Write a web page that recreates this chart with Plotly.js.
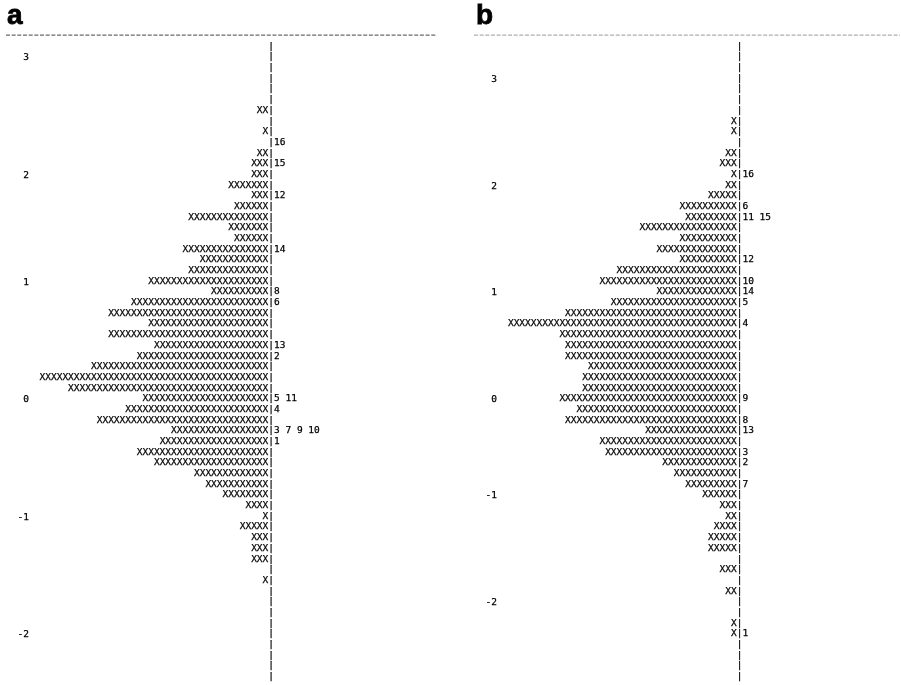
<!DOCTYPE html>
<html>
<head>
<meta charset="utf-8">
<script src="https://cdn.plot.ly/plotly-3.0.1.min.js"></script>
<style>
  html, body { margin: 0; padding: 0; background: #fff; }
  #chart { width: 901px; height: 685px; }
  #chart svg { will-change: transform; }
  #chart svg text { opacity: 0.999; }
  #chart .textpoint text, #chart .ytick text, #chart .y2tick text { stroke: #000; stroke-width: 0.25px; }
  #chart .annotation-text { stroke: #000; stroke-width: 0.8px; }
</style>
</head>
<body>
<div id="chart"></div>
<script>
// Panel a: number of 'X' per row (row 0 = top) and item numbers to the right of '|'
var personCountsA = [0,0,0,0,0,0,2,0,1,0,
                     2,3,3,7,3,6,14,7,6,15,
                     12,14,21,10,24,28,21,28,20,23,
                     31,40,35,22,25,30,17,19,23,20,
                     13,11,8,4,1,5,3,3,3,0,
                     1,0,0,0,0,0,0,0,0,0];
var itemLabelsA = ['','','','','','','','','','16',
                   '','15','','','12','','','','','14',
                   '','','','8','6','','','','13','2',
                   '','','','5 11','4','','3 7 9 10','1','','',
                   '','','','','','','','','','',
                   '','','','','','','','','',''];
var tickRowsA = [1, 12, 22, 33, 44, 55];
var tickTextA = ['3', '2', '1', '0', '-1', '-2'];

// Panel b
var personCountsB = [0,0,0,0,0,0,0,1,1,0,
                     2,3,1,2,5,10,9,17,10,14,
                     10,21,24,14,22,30,40,31,30,30,
                     26,27,27,31,28,30,16,24,23,13,
                     11,9,6,3,2,4,5,5,0,3,
                     0,2,0,0,1,1,0,0,0,0];
var itemLabelsB = ['','','','','','','','','','',
                   '','','16','','','6','11 15','','','',
                   '12','','10','14','5','','4','','','',
                   '','','','9','','8','13','','3','2',
                   '','7','','','','','','','','',
                   '','','','','','1','','','',''];
var tickRowsB = [3, 13, 23, 33, 42, 52];
var tickTextB = ['3', '2', '1', '0', '-1', '-2'];

var panelLabels = ['a', 'b'];

var MONO = '"DejaVu Sans Mono", "Liberation Mono", monospace';
var FS = 9.5;

function rows(n) { var r = []; for (var i = 0; i < n; i++) r.push(i); return r; }

function panelTraces(counts, items, xa, ya) {
  var ys = rows(counts.length);
  var zeros = ys.map(function () { return 0; });
  return [
    {
      type: 'scatter', mode: 'text', xaxis: xa, yaxis: ya,
      x: zeros, y: ys,
      text: counts.map(function (n) { return 'X'.repeat(n); }),
      textposition: 'middle left',
      textfont: { family: MONO, size: FS, color: '#000' },
      hoverinfo: 'skip', showlegend: false, cliponaxis: false
    },
    {
      type: 'scatter', mode: 'text', xaxis: xa, yaxis: ya,
      x: zeros, y: ys,
      text: items.map(function (s) { return '|' + s; }),
      textposition: 'middle right',
      textfont: { family: MONO, size: FS, color: '#000' },
      hoverinfo: 'skip', showlegend: false, cliponaxis: false
    }
  ];
}

var data = panelTraces(personCountsA, itemLabelsA, 'x', 'y')
  .concat(panelTraces(personCountsB, itemLabelsB, 'x2', 'y2'));

var W = 901, H = 685, MT = 41.4, MB = 2.6;
var plotH = H - MT - MB;
function py(pix) { return (H - MB - pix) / plotH; }

var axHidden = { showgrid: false, zeroline: false, showline: false, showticklabels: false, ticks: '' };
var labelFont = { family: '"Liberation Sans", Arial, sans-serif', size: 28, color: '#000', weight: 700 };

var layout = {
  width: W, height: H,
  margin: { l: 0, r: 0, t: MT, b: MB, pad: 0 },
  paper_bgcolor: '#fff', plot_bgcolor: '#fff',
  xaxis: Object.assign({ domain: [0, 450.5 / W], range: [-268.3, 182.2], anchor: 'y' }, axHidden),
  xaxis2: Object.assign({ domain: [450.5 / W, 1], range: [-286.2, 164.3], anchor: 'y2' }, axHidden),
  yaxis: {
    anchor: 'free', position: 29 / W, range: [59.5, -0.5],
    showgrid: false, zeroline: false, showline: false, ticks: '',
    tickmode: 'array', tickvals: tickRowsA, ticktext: tickTextA,
    tickfont: { family: MONO, size: FS, color: '#000' }
  },
  yaxis2: {
    anchor: 'free', position: 497 / W, range: [59.5, -0.5],
    showgrid: false, zeroline: false, showline: false, ticks: '',
    tickmode: 'array', tickvals: tickRowsB, ticktext: tickTextB,
    tickfont: { family: MONO, size: FS, color: '#000' }
  },
  shapes: [
    { type: 'line', xref: 'paper', yref: 'paper', x0: 6 / W, x1: 437 / W, y0: py(35.5), y1: py(35.5),
      line: { color: '#444', width: 1, dash: '4px,1.67px' } },
    { type: 'line', xref: 'paper', yref: 'paper', x0: 474 / W, x1: 900 / W, y0: py(35.5), y1: py(35.5),
      line: { color: '#999', width: 1, dash: '4px,1.67px' } }
  ],
  annotations: [
    { text: panelLabels[0], xref: 'paper', yref: 'paper', x: 5 / W, y: py(15), xanchor: 'left', yanchor: 'middle',
      showarrow: false, font: labelFont },
    { text: panelLabels[1], xref: 'paper', yref: 'paper', x: 474 / W, y: py(15), xanchor: 'left', yanchor: 'middle',
      showarrow: false, font: labelFont }
  ]
};

Plotly.newPlot('chart', data, layout, { displayModeBar: false, staticPlot: true });
</script>
</body>
</html>
